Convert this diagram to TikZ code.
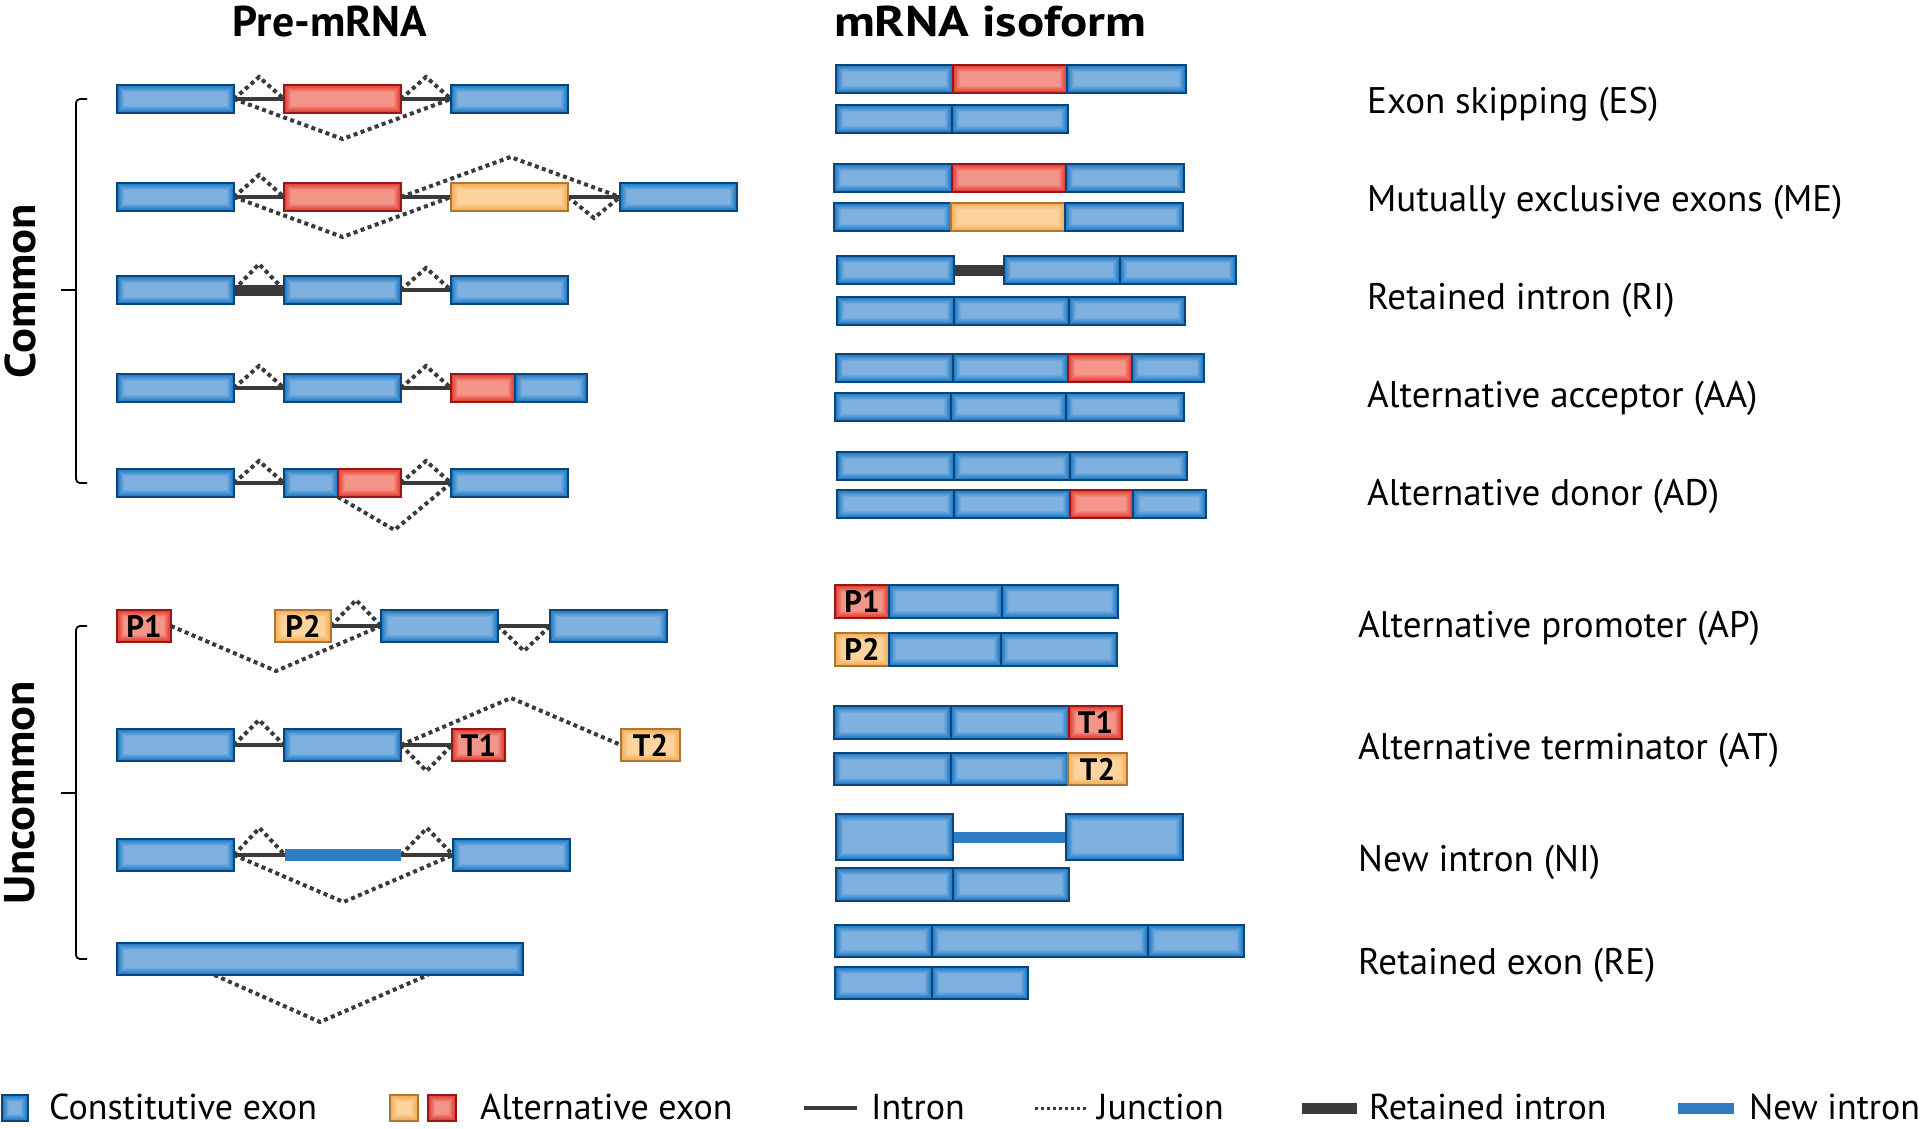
\documentclass[tikz,border=0pt]{standalone}
\usepackage{fontspec}
\setmainfont{PT Sans}
\usepackage{graphicx}
\usetikzlibrary{calc,backgrounds}
\definecolor{cBd}{HTML}{0A447D}
\definecolor{cE}{HTML}{2680C9}
\definecolor{cC}{HTML}{7EB1E0}
\definecolor{rBd}{HTML}{9A1616}
\definecolor{rE}{HTML}{E5443A}
\definecolor{rC}{HTML}{F4958A}
\definecolor{oBd}{HTML}{AE7634}
\definecolor{oE}{HTML}{F5B25E}
\definecolor{oC}{HTML}{FDD49D}
\definecolor{gI}{HTML}{3A3A3A}
\definecolor{nI}{HTML}{2F7CC2}
\newcommand\mkex[7][]{\node[#1,minimum width={(#5-#3)*1pt},minimum height={(#6-#4)*1pt}] (#2) at ({(#3+#5)/2},{(#4+#6)/2}) {#7};}
\tikzset{
 exbase/.style={rectangle,inner sep=0pt,outer sep=0pt,line width=2.5pt},
 glow/.style 2 args={path picture={\foreach \k in {1,...,7}{\pgfmathsetmacro\gp{100-(\k-1)*100/6}\fill[#1!\gp!#2] ([xshift=\k pt,yshift=-\k pt]path picture bounding box.north west) rectangle ([xshift=-\k pt,yshift=\k pt]path picture bounding box.south east);}}},
 cex/.style={exbase,draw=cBd,fill=cE,glow={cE}{cC}},
 rex/.style={exbase,draw=rBd,fill=rE,glow={rE}{rC}},
 oex/.style={exbase,draw=oBd,fill=oE,glow={oE}{oC}},
 nbar/.style={rectangle,inner sep=0pt,outer sep=0pt,fill=nI},
 intron/.style={draw=gI,line width=4pt},
 junc/.style={draw=gI,line width=4pt,dash pattern=on 4pt off 3.5pt},
 rint/.style={draw=gI,line width=11pt},
 nint/.style={draw=nI,line width=11pt},
 brk/.style={draw=black,line width=1.8pt,rounded corners=4pt},
 lab/.style={font=\fontsize{37}{42}\selectfont,anchor=base west,inner sep=0pt},
 leg/.style={font=\fontsize{36}{40}\selectfont,anchor=base west,inner sep=0pt},
 hdr/.style={font=\bfseries\fontsize{43}{48}\selectfont,inner sep=0pt},
 ptxt/.style={font=\bfseries\fontsize{31}{34}\selectfont},
}
\begin{document}
\begin{tikzpicture}[x=1pt,y=-1pt]
\useasboundingbox (0,0) rectangle (1920,1128);
% headers
\node[hdr] (hPre) at (330,22) {\scalebox{1.02}[1]{Pre-mRNA}};
\node[hdr] (hIso) at (990,22) {\scalebox{1.18}[1]{mRNA isoform}};
\node[hdr,rotate=90] (hCom) at (20,291) {\scalebox{1.08}[1]{Common}};
\node[hdr,rotate=90] (hUnc) at (20,793) {\scalebox{1.08}[1]{Uncommon}};
% brackets
\draw[brk] (87,99) -- (76,99) -- (76,483) -- (87,483);
\draw[brk] (76,290) -- (61,290);
\draw[brk] (87,626) -- (76,626) -- (76,959) -- (87,959);
\draw[brk] (76,793) -- (61,793);
% ---------- pre-mRNA: common ----------
\mkex[cex]{esA}{117}{85}{234}{113}{}
\mkex[rex]{esB}{284}{85}{401}{113}{}
\mkex[cex]{esC}{451}{85}{568}{113}{}
\mkex[cex]{meA}{117}{183}{234}{211}{}
\mkex[rex]{meB}{284}{183}{401}{211}{}
\mkex[oex]{meC}{451}{183}{568}{211}{}
\mkex[cex]{meD}{620}{183}{737}{211}{}
\mkex[cex]{riA}{117}{276}{234}{304}{}
\mkex[cex]{riB}{284}{276}{401}{304}{}
\mkex[cex]{riC}{451}{276}{568}{304}{}
\mkex[cex]{aaA}{117}{374}{234}{402}{}
\mkex[cex]{aaB}{284}{374}{401}{402}{}
\mkex[rex]{aaC}{451}{374}{515}{402}{}
\mkex[cex]{aaD}{515}{374}{587}{402}{}
\mkex[cex]{adA}{117}{469}{234}{497}{}
\mkex[cex]{adB}{284}{469}{338}{497}{}
\mkex[rex]{adC}{338}{469}{401}{497}{}
\mkex[cex]{adD}{451}{469}{568}{497}{}
% ---------- pre-mRNA: uncommon ----------
\mkex[rex,ptxt]{apP1}{117}{610}{171}{642}{P1}
\mkex[oex,ptxt]{apP2}{275}{610}{331}{642}{P2}
\mkex[cex]{apA}{381}{610}{498}{642}{}
\mkex[cex]{apB}{550}{610}{667}{642}{}
\mkex[cex]{atA}{117}{729}{234}{761}{}
\mkex[cex]{atB}{284}{729}{401}{761}{}
\mkex[rex,ptxt]{atT1}{452}{729}{505}{761}{T1}
\mkex[oex,ptxt]{atT2}{621}{729}{680}{761}{T2}
\mkex[cex]{niA}{117}{839}{234}{871}{}
\mkex[nbar]{niB}{285}{849}{401}{861}{}
\mkex[cex]{niC}{453}{839}{570}{871}{}
\mkex[cex]{reA}{117}{943}{523}{975}{}
% ---------- isoforms ----------
\mkex[cex]{es1a}{836}{65}{953}{93}{}
\mkex[rex]{es1b}{953}{65}{1067}{93}{}
\mkex[cex]{es1c}{1067}{65}{1186}{93}{}
\mkex[cex]{es2a}{836}{105}{952}{133}{}
\mkex[cex]{es2b}{952}{105}{1068}{133}{}
\mkex[cex]{me1a}{834}{164}{952}{192}{}
\mkex[rex]{me1b}{952}{164}{1066}{192}{}
\mkex[cex]{me1c}{1066}{164}{1184}{192}{}
\mkex[cex]{me2a}{834}{203}{951}{231}{}
\mkex[oex]{me2b}{951}{203}{1065}{231}{}
\mkex[cex]{me2c}{1065}{203}{1183}{231}{}
\mkex[cex]{ri1a}{837}{256}{954}{284}{}
\mkex[cex]{ri1b}{1004}{256}{1120}{284}{}
\mkex[cex]{ri1c}{1120}{256}{1236}{284}{}
\mkex[cex]{ri2a}{837}{297}{954}{325}{}
\mkex[cex]{ri2b}{954}{297}{1069}{325}{}
\mkex[cex]{ri2c}{1069}{297}{1185}{325}{}
\mkex[cex]{aa1a}{836}{354}{953}{382}{}
\mkex[cex]{aa1b}{953}{354}{1068}{382}{}
\mkex[rex]{aa1c}{1068}{354}{1132}{382}{}
\mkex[cex]{aa1d}{1132}{354}{1204}{382}{}
\mkex[cex]{aa2a}{835}{393}{951}{421}{}
\mkex[cex]{aa2b}{951}{393}{1066}{421}{}
\mkex[cex]{aa2c}{1066}{393}{1184}{421}{}
\mkex[cex]{ad1a}{837}{452}{954}{480}{}
\mkex[cex]{ad1b}{954}{452}{1070}{480}{}
\mkex[cex]{ad1c}{1070}{452}{1187}{480}{}
\mkex[cex]{ad2a}{837}{490}{954}{518}{}
\mkex[cex]{ad2b}{954}{490}{1070}{518}{}
\mkex[rex]{ad2c}{1070}{490}{1133}{518}{}
\mkex[cex]{ad2d}{1133}{490}{1206}{518}{}
\mkex[rex,ptxt]{ap1a}{835}{585}{889}{618}{P1}
\mkex[cex]{ap1b}{889}{585}{1002}{618}{}
\mkex[cex]{ap1c}{1002}{585}{1118}{618}{}
\mkex[oex,ptxt]{ap2a}{835}{633}{889}{666}{P2}
\mkex[cex]{ap2b}{889}{633}{1001}{666}{}
\mkex[cex]{ap2c}{1001}{633}{1117}{666}{}
\mkex[cex]{at1a}{834}{706}{951}{739}{}
\mkex[cex]{at1b}{951}{706}{1069}{739}{}
\mkex[rex,ptxt]{at1c}{1069}{706}{1122}{739}{T1}
\mkex[cex]{at2a}{834}{753}{951}{785}{}
\mkex[cex]{at2b}{951}{753}{1068}{785}{}
\mkex[oex,ptxt]{at2c}{1068}{753}{1127}{785}{T2}
\mkex[cex]{ni1a}{836}{814}{953}{860}{}
\mkex[cex]{ni1b}{1066}{814}{1183}{860}{}
\mkex[cex]{ni2a}{836}{868}{953}{901}{}
\mkex[cex]{ni2b}{953}{868}{1069}{901}{}
\mkex[cex]{re1a}{835}{925}{932}{957}{}
\mkex[cex]{re1b}{932}{925}{1148}{957}{}
\mkex[cex]{re1c}{1148}{925}{1244}{957}{}
\mkex[cex]{re2a}{835}{967}{932}{999}{}
\mkex[cex]{re2b}{932}{967}{1028}{999}{}
% ---------- labels ----------
\node[lab] (lES) at (1367,113) {Exon skipping (ES)};
\node[lab] (lME) at (1367,211) {Mutually exclusive exons (ME)};
\node[lab] (lRI) at (1367,309) {Retained intron (RI)};
\node[lab] (lAA) at (1367,407) {Alternative acceptor (AA)};
\node[lab] (lAD) at (1367,505) {Alternative donor (AD)};
\node[lab] (lAP) at (1358,637) {Alternative promoter (AP)};
\node[lab] (lAT) at (1358,759) {Alternative terminator (AT)};
\node[lab] (lNI) at (1358,871) {New intron (NI)};
\node[lab] (lRE) at (1358,974) {Retained exon (RE)};
% ---------- legend ----------
\mkex[cex]{lgC}{2}{1095}{28}{1121}{}
\node[leg] (ltC) at (49,1119) {Constitutive exon};
\mkex[oex]{lgO}{390}{1095}{418}{1121}{}
\mkex[rex]{lgR}{428}{1095}{456}{1121}{}
\node[leg] (ltA) at (480,1119) {Alternative exon};
\coordinate (lgI1) at (804,1108); \coordinate (lgI2) at (857,1108);
\draw[intron] (lgI1) -- (lgI2);
\node[leg] (ltI) at (871,1119) {Intron};
\coordinate (lgJ1) at (1035,1108); \coordinate (lgJ2) at (1087,1108);
\draw[junc,line width=3pt,dash pattern=on 3pt off 3pt] (lgJ1) -- (lgJ2);
\node[leg] (ltJ) at (1097,1119) {Junction};
\coordinate (lgR1) at (1302,1108); \coordinate (lgR2) at (1357,1108);
\draw[rint] (lgR1) -- (lgR2);
\node[leg] (ltR) at (1369,1119) {Retained intron};
\coordinate (lgN1) at (1678,1108); \coordinate (lgN2) at (1734,1108);
\draw[nint] (lgN1) -- (lgN2);
\node[leg] (ltN) at (1749,1119) {New intron};
% ---------- connectors ----------
\begin{scope}[on background layer]
% ES
\draw[intron] (esA.east) -- (esB.west) (esB.east) -- (esC.west);
\draw[junc] (esA.east) -- ($(esA.east)!.5!(esB.west)+(0,-22)$) -- (esB.west);
\draw[junc] (esB.east) -- ($(esB.east)!.5!(esC.west)+(0,-22)$) -- (esC.west);
\draw[junc] (esA.east) -- ($(esA.east)!.5!(esC.west)+(0,40)$) -- (esC.west);
% ME
\draw[intron] (meA.east) -- (meB.west) (meB.east) -- (meC.west) (meC.east) -- (meD.west);
\draw[junc] (meA.east) -- ($(meA.east)!.5!(meB.west)+(0,-22)$) -- (meB.west);
\draw[junc] (meA.east) -- ($(meA.east)!.5!(meC.west)+(0,40)$) -- (meC.west);
\draw[junc] (meB.east) -- ($(meB.east)!.5!(meD.west)+(0,-40)$) -- (meD.west);
\draw[junc] (meC.east) -- ($(meC.east)!.5!(meD.west)+(0,21)$) -- (meD.west);
% RI
\draw[rint] (riA.east) -- (riB.west);
\draw[intron] (riB.east) -- (riC.west);
\draw[junc] (riA.east) -- ($(riA.east)!.5!(riB.west)+(0,-26)$) -- (riB.west);
\draw[junc] (riB.east) -- ($(riB.east)!.5!(riC.west)+(0,-22)$) -- (riC.west);
% AA
\draw[intron] (aaA.east) -- (aaB.west) (aaB.east) -- (aaC.west);
\draw[junc] (aaA.east) -- ($(aaA.east)!.5!(aaB.west)+(0,-22)$) -- (aaB.west);
\draw[junc] (aaB.east) -- ($(aaB.east)!.5!(aaC.west)+(0,-22)$) -- (aaC.west);
% AD
\draw[intron] (adA.east) -- (adB.west) (adC.east) -- (adD.west);
\draw[junc] (adA.east) -- ($(adA.east)!.5!(adB.west)+(0,-22)$) -- (adB.west);
\draw[junc] (adC.east) -- ($(adC.east)!.5!(adD.west)+(0,-22)$) -- (adD.west);
\draw[junc] (adC.south west) -- ($(adC.south west)!.5!(adD.west)+(0,40)$) -- (adD.west);
% AP
\draw[intron] (apP2.east) -- (apA.west) (apA.east) -- (apB.west);
\draw[junc] (apP2.east) -- ($(apP2.east)!.5!(apA.west)+(0,-26)$) -- (apA.west);
\draw[junc] (apP1.east) -- ($(apP1.east)!.5!(apA.west)+(0,45)$) -- (apA.west);
\draw[junc] (apA.east) -- ($(apA.east)!.5!(apB.west)+(0,25)$) -- (apB.west);
% AT
\draw[intron] (atA.east) -- (atB.west) (atB.east) -- (atT1.west);
\draw[junc] (atA.east) -- ($(atA.east)!.5!(atB.west)+(0,-25)$) -- (atB.west);
\draw[junc] (atB.east) -- ($(atB.east)!.5!(atT1.west)+(0,26)$) -- (atT1.west);
\draw[junc] (atB.east) -- ($(atB.east)!.5!(atT2.west)+(0,-47)$) -- (atT2.west);
% NI
\draw[intron] (niA.east) -- (niB.west) (niB.east) -- (niC.west);
\draw[junc] (niA.east) -- ($(niA.east)!.5!(niB.west)+(0,-27)$) -- (niB.west);
\draw[junc] (niB.east) -- ($(niB.east)!.5!(niC.west)+(0,-27)$) -- (niC.west);
\draw[junc] (niA.east) -- ($(niA.east)!.5!(niC.west)+(0,47)$) -- (niC.west);
% RE
\draw[junc] ($(reA.south west)!.24!(reA.south east)$) -- ($(reA.south west)!.5!(reA.south east)+(0,47)$) -- ($(reA.south west)!.766!(reA.south east)$);
% isoform bars
\draw[rint] (ri1a.east) -- (ri1b.west);
\draw[nint] (ni1a.east) -- (ni1b.west);
\end{scope}
\end{tikzpicture}
\end{document}
